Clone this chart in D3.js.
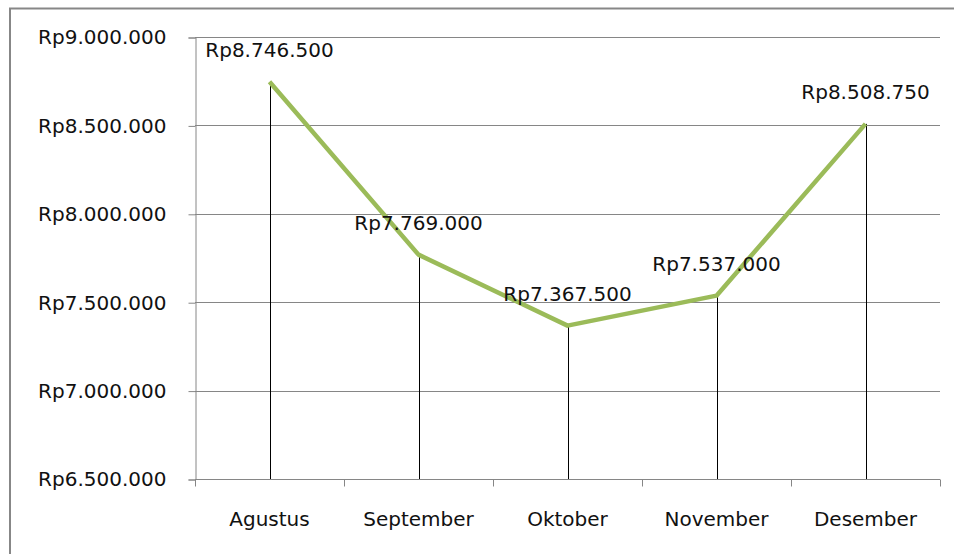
<!DOCTYPE html>
<html>
<head>
<meta charset="UTF-8">
<title>Rp per bulan</title>
<style>
    body { margin: 0; padding: 0; background: #fff; }
    svg { display: block; }
    text { font-family: "DejaVu Sans", sans-serif; font-size: 20px; fill: #111; }
</style>
</head>
<body>
<svg width="954" height="554"></svg>
<script src="https://cdn.jsdelivr.net/npm/d3@7"></script>
<script>
// data
var months = ["Agustus", "September", "Oktober", "November", "Desember"];
var values = [8746500, 7769000, 7367500, 7537000, 8508750];
var yTicks = [6500000, 7000000, 7500000, 8000000, 8500000, 9000000];

var svg = d3.select("svg"),
    plotLeft = 195, plotRight = 940, plotTop = 37, plotBottom = 479;

var x = d3.scaleBand().domain(months).range([plotLeft, plotRight]).padding(0);
var y = d3.scaleLinear().domain([6500000, 9000000]).range([plotBottom, plotTop]);

function rp(v) {
    return "Rp" + d3.format(",")(v).replace(/,/g, ".");
}

// chart border
svg.append("rect")
    .attr("x", 10).attr("y", 8.5)
    .attr("width", 960).attr("height", 560)
    .attr("fill", "none")
    .attr("stroke", "#878787")
    .attr("stroke-width", 2);

// gridlines
svg.append("g")
    .selectAll("line")
    .data(yTicks.slice(1))
    .enter().append("line")
    .attr("x1", plotLeft).attr("x2", plotRight)
    .attr("y1", function (d) { return Math.round(y(d)) + 0.5; })
    .attr("y2", function (d) { return Math.round(y(d)) + 0.5; })
    .attr("stroke", "#868686");

// y axis
var yAxis = svg.append("g")
    .attr("transform", "translate(" + (plotLeft + 0.5) + ",0.5)")
    .call(d3.axisLeft(y).tickValues(yTicks).tickSize(7).tickPadding(22).tickFormat(rp));
yAxis.selectAll("path, line").attr("stroke", "#868686");
yAxis.selectAll("text").style("font-size", "20px").style("font-family", "DejaVu Sans").attr("fill", "#111");

// x axis: line, boundary ticks, labels at centers
var xg = svg.append("g").attr("transform", "translate(0," + (plotBottom + 0.5) + ")");
xg.append("line").attr("x1", plotLeft).attr("x2", plotRight).attr("stroke", "#868686");
xg.selectAll("line.b")
    .data(months.map(function (m) { return x(m); }).concat([plotRight]))
    .enter().append("line")
    .attr("class", "b")
    .attr("x1", function (d) { return Math.round(d) + 0.5; })
    .attr("x2", function (d) { return Math.round(d) + 0.5; })
    .attr("y1", 0).attr("y2", 7)
    .attr("stroke", "#868686");
xg.selectAll("text")
    .data(months)
    .enter().append("text")
    .attr("x", function (d) { return x(d) + x.bandwidth() / 2; })
    .attr("y", 46)
    .attr("text-anchor", "middle")
    .text(function (d) { return d; });

// drop lines
svg.append("g")
    .selectAll("line")
    .data(months)
    .enter().append("line")
    .attr("x1", function (d) { return Math.round(x(d) + x.bandwidth() / 2) + 0.5; })
    .attr("x2", function (d) { return Math.round(x(d) + x.bandwidth() / 2) + 0.5; })
    .attr("y1", function (d, i) { return y(values[i]); })
    .attr("y2", plotBottom)
    .attr("stroke", "#000");

// line
var line = d3.line()
    .x(function (d, i) { return x(months[i]) + x.bandwidth() / 2; })
    .y(function (d) { return y(d); });

svg.append("path")
    .datum(values)
    .attr("d", line)
    .attr("fill", "none")
    .attr("stroke", "#9bbb59")
    .attr("stroke-width", 4.5)
    .attr("stroke-linejoin", "round");

// data labels
svg.append("g")
    .selectAll("text")
    .data(values)
    .enter().append("text")
    .attr("x", function (d, i) { return x(months[i]) + x.bandwidth() / 2; })
    .attr("y", function (d) { return y(d) - 25; })
    .attr("text-anchor", "middle")
    .text(rp);
</script>
</body>
</html>
